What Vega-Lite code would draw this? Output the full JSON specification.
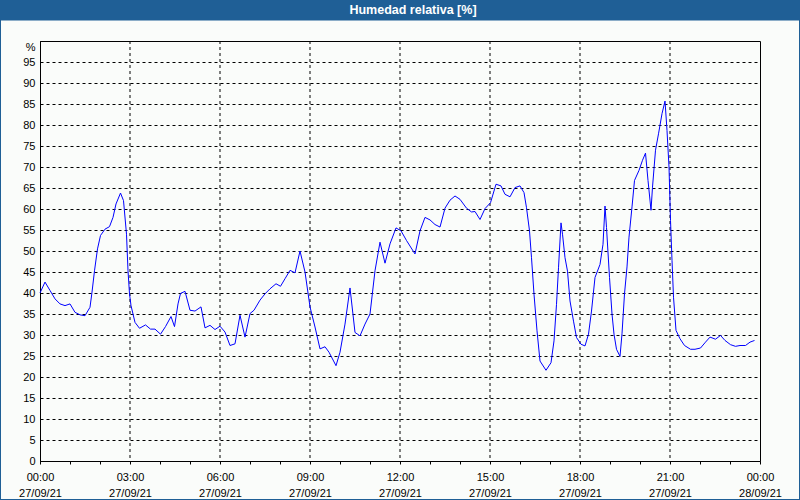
{
  "$schema": "https://vega.github.io/schema/vega-lite/v6.json",
  "width": 720,
  "height": 420,
  "autosize": {"type": "none"},
  "padding": {"left": 40, "top": 41, "right": 40, "bottom": 39},
  "background": "#fafcfa",
  "config": {
    "view": {"stroke": "#000000", "strokeWidth": 1, "fill": "#fafcfa"},
    "axis": {
      "labelFont": "Liberation Sans",
      "labelFontSize": 11,
      "labelColor": "#000000",
      "domainColor": "#000000",
      "tickColor": "#000000",
      "gridColor": "#000000",
      "gridDash": [3, 3],
      "gridWidth": 1,
      "title": null
    }
  },
  "resolve": {"axis": {"x": "independent", "y": "independent"}},
  "datasets": {
    "bar": [{"x1": "2021-09-26T22:40:00Z", "x2": "2021-09-28T01:20:00Z", "y1": 104.88, "y2": 109.76}],
    "frame": [{"x1": "2021-09-26T22:40:00Z", "x2": "2021-09-28T01:20:00Z", "y1": -9.29, "y2": 109.76}],
    "titletext": [{"t": "2021-09-27T12:26:00Z", "v": 106.43, "label": "Humedad relativa [%]"}],
    "grid": [
      {"t": "2021-09-27T03:00:00Z"},
      {"t": "2021-09-27T06:00:00Z"},
      {"t": "2021-09-27T09:00:00Z"},
      {"t": "2021-09-27T12:00:00Z"},
      {"t": "2021-09-27T15:00:00Z"},
      {"t": "2021-09-27T18:00:00Z"},
      {"t": "2021-09-27T21:00:00Z"}
    ],
    "hr": [
      {"t": "2021-09-27T00:00:00Z", "v": 40.0},
      {"t": "2021-09-27T00:10:00Z", "v": 42.6},
      {"t": "2021-09-27T00:20:00Z", "v": 40.6},
      {"t": "2021-09-27T00:30:00Z", "v": 38.6},
      {"t": "2021-09-27T00:40:00Z", "v": 37.4},
      {"t": "2021-09-27T00:50:00Z", "v": 37.0},
      {"t": "2021-09-27T01:00:00Z", "v": 37.4},
      {"t": "2021-09-27T01:10:00Z", "v": 35.4},
      {"t": "2021-09-27T01:20:00Z", "v": 34.8},
      {"t": "2021-09-27T01:30:00Z", "v": 34.6},
      {"t": "2021-09-27T01:40:00Z", "v": 36.6},
      {"t": "2021-09-27T01:44:00Z", "v": 40.2},
      {"t": "2021-09-27T01:49:00Z", "v": 45.3},
      {"t": "2021-09-27T01:55:00Z", "v": 50.5},
      {"t": "2021-09-27T02:01:00Z", "v": 53.7},
      {"t": "2021-09-27T02:10:00Z", "v": 55.2},
      {"t": "2021-09-27T02:19:00Z", "v": 55.8},
      {"t": "2021-09-27T02:26:00Z", "v": 58.0},
      {"t": "2021-09-27T02:32:00Z", "v": 61.2},
      {"t": "2021-09-27T02:41:00Z", "v": 63.8},
      {"t": "2021-09-27T02:47:00Z", "v": 62.0},
      {"t": "2021-09-27T02:53:00Z", "v": 54.0},
      {"t": "2021-09-27T02:56:00Z", "v": 45.3},
      {"t": "2021-09-27T02:59:00Z", "v": 39.8},
      {"t": "2021-09-27T03:02:00Z", "v": 37.0},
      {"t": "2021-09-27T03:10:00Z", "v": 33.0},
      {"t": "2021-09-27T03:19:00Z", "v": 31.6},
      {"t": "2021-09-27T03:31:00Z", "v": 32.4},
      {"t": "2021-09-27T03:41:00Z", "v": 31.4},
      {"t": "2021-09-27T03:50:00Z", "v": 31.4},
      {"t": "2021-09-27T04:01:00Z", "v": 30.2},
      {"t": "2021-09-27T04:11:00Z", "v": 32.0},
      {"t": "2021-09-27T04:22:00Z", "v": 34.4},
      {"t": "2021-09-27T04:29:00Z", "v": 32.0},
      {"t": "2021-09-27T04:36:00Z", "v": 37.4},
      {"t": "2021-09-27T04:41:00Z", "v": 39.9},
      {"t": "2021-09-27T04:50:00Z", "v": 40.4},
      {"t": "2021-09-27T05:00:00Z", "v": 35.9},
      {"t": "2021-09-27T05:10:00Z", "v": 35.7},
      {"t": "2021-09-27T05:22:00Z", "v": 36.7},
      {"t": "2021-09-27T05:30:00Z", "v": 31.7},
      {"t": "2021-09-27T05:40:00Z", "v": 32.3},
      {"t": "2021-09-27T05:50:00Z", "v": 31.3},
      {"t": "2021-09-27T06:00:00Z", "v": 32.1},
      {"t": "2021-09-27T06:10:00Z", "v": 30.7},
      {"t": "2021-09-27T06:20:00Z", "v": 27.5},
      {"t": "2021-09-27T06:30:00Z", "v": 27.9},
      {"t": "2021-09-27T06:40:00Z", "v": 34.7},
      {"t": "2021-09-27T06:50:00Z", "v": 29.5},
      {"t": "2021-09-27T07:00:00Z", "v": 35.1},
      {"t": "2021-09-27T07:08:00Z", "v": 35.9},
      {"t": "2021-09-27T07:20:00Z", "v": 38.3},
      {"t": "2021-09-27T07:30:00Z", "v": 39.8},
      {"t": "2021-09-27T07:40:00Z", "v": 41.0},
      {"t": "2021-09-27T07:52:00Z", "v": 42.2},
      {"t": "2021-09-27T08:01:00Z", "v": 41.6},
      {"t": "2021-09-27T08:10:00Z", "v": 43.4},
      {"t": "2021-09-27T08:20:00Z", "v": 45.4},
      {"t": "2021-09-27T08:30:00Z", "v": 44.8},
      {"t": "2021-09-27T08:40:00Z", "v": 50.0},
      {"t": "2021-09-27T08:50:00Z", "v": 45.0},
      {"t": "2021-09-27T09:00:00Z", "v": 36.7},
      {"t": "2021-09-27T09:10:00Z", "v": 31.9},
      {"t": "2021-09-27T09:20:00Z", "v": 26.7},
      {"t": "2021-09-27T09:30:00Z", "v": 27.2},
      {"t": "2021-09-27T09:38:00Z", "v": 25.9},
      {"t": "2021-09-27T09:52:00Z", "v": 22.7},
      {"t": "2021-09-27T10:00:00Z", "v": 25.9},
      {"t": "2021-09-27T10:10:00Z", "v": 32.6},
      {"t": "2021-09-27T10:20:00Z", "v": 41.2},
      {"t": "2021-09-27T10:30:00Z", "v": 30.6},
      {"t": "2021-09-27T10:40:00Z", "v": 29.8},
      {"t": "2021-09-27T10:50:00Z", "v": 32.6},
      {"t": "2021-09-27T11:00:00Z", "v": 35.0},
      {"t": "2021-09-27T11:10:00Z", "v": 45.3},
      {"t": "2021-09-27T11:20:00Z", "v": 52.1},
      {"t": "2021-09-27T11:30:00Z", "v": 47.1},
      {"t": "2021-09-27T11:40:00Z", "v": 51.7},
      {"t": "2021-09-27T11:52:00Z", "v": 55.5},
      {"t": "2021-09-27T12:02:00Z", "v": 54.8},
      {"t": "2021-09-27T12:13:00Z", "v": 52.5},
      {"t": "2021-09-27T12:30:00Z", "v": 49.3},
      {"t": "2021-09-27T12:40:00Z", "v": 54.8},
      {"t": "2021-09-27T12:50:00Z", "v": 58.0},
      {"t": "2021-09-27T13:00:00Z", "v": 57.4},
      {"t": "2021-09-27T13:10:00Z", "v": 56.3},
      {"t": "2021-09-27T13:20:00Z", "v": 55.7},
      {"t": "2021-09-27T13:30:00Z", "v": 60.2},
      {"t": "2021-09-27T13:40:00Z", "v": 62.1},
      {"t": "2021-09-27T13:50:00Z", "v": 63.1},
      {"t": "2021-09-27T14:00:00Z", "v": 62.3},
      {"t": "2021-09-27T14:13:00Z", "v": 60.2},
      {"t": "2021-09-27T14:23:00Z", "v": 59.3},
      {"t": "2021-09-27T14:30:00Z", "v": 59.4},
      {"t": "2021-09-27T14:40:00Z", "v": 57.5},
      {"t": "2021-09-27T14:50:00Z", "v": 60.1},
      {"t": "2021-09-27T15:01:00Z", "v": 61.5},
      {"t": "2021-09-27T15:12:00Z", "v": 65.9},
      {"t": "2021-09-27T15:22:00Z", "v": 65.5},
      {"t": "2021-09-27T15:30:00Z", "v": 63.5},
      {"t": "2021-09-27T15:40:00Z", "v": 62.9},
      {"t": "2021-09-27T15:50:00Z", "v": 65.1},
      {"t": "2021-09-27T16:00:00Z", "v": 65.5},
      {"t": "2021-09-27T16:08:00Z", "v": 63.9},
      {"t": "2021-09-27T16:13:00Z", "v": 60.3},
      {"t": "2021-09-27T16:19:00Z", "v": 54.8},
      {"t": "2021-09-27T16:23:00Z", "v": 48.4},
      {"t": "2021-09-27T16:28:00Z", "v": 39.7},
      {"t": "2021-09-27T16:34:00Z", "v": 31.0},
      {"t": "2021-09-27T16:40:00Z", "v": 23.8},
      {"t": "2021-09-27T16:52:00Z", "v": 21.6},
      {"t": "2021-09-27T17:02:00Z", "v": 23.4},
      {"t": "2021-09-27T17:08:00Z", "v": 28.6},
      {"t": "2021-09-27T17:13:00Z", "v": 37.3},
      {"t": "2021-09-27T17:17:00Z", "v": 46.0},
      {"t": "2021-09-27T17:22:00Z", "v": 56.7},
      {"t": "2021-09-27T17:25:00Z", "v": 54.0},
      {"t": "2021-09-27T17:30:00Z", "v": 48.4},
      {"t": "2021-09-27T17:35:00Z", "v": 45.2},
      {"t": "2021-09-27T17:40:00Z", "v": 38.1},
      {"t": "2021-09-27T17:47:00Z", "v": 33.3},
      {"t": "2021-09-27T17:53:00Z", "v": 29.4},
      {"t": "2021-09-27T18:02:00Z", "v": 27.8},
      {"t": "2021-09-27T18:10:00Z", "v": 27.4},
      {"t": "2021-09-27T18:17:00Z", "v": 30.2},
      {"t": "2021-09-27T18:23:00Z", "v": 35.7},
      {"t": "2021-09-27T18:30:00Z", "v": 43.7},
      {"t": "2021-09-27T18:40:00Z", "v": 46.8},
      {"t": "2021-09-27T18:46:00Z", "v": 51.6},
      {"t": "2021-09-27T18:50:00Z", "v": 60.7},
      {"t": "2021-09-27T18:53:00Z", "v": 55.6},
      {"t": "2021-09-27T18:59:00Z", "v": 43.7},
      {"t": "2021-09-27T19:04:00Z", "v": 35.0},
      {"t": "2021-09-27T19:08:00Z", "v": 30.2},
      {"t": "2021-09-27T19:13:00Z", "v": 26.6},
      {"t": "2021-09-27T19:20:00Z", "v": 24.9},
      {"t": "2021-09-27T19:24:00Z", "v": 30.3},
      {"t": "2021-09-27T19:29:00Z", "v": 39.8},
      {"t": "2021-09-27T19:34:00Z", "v": 46.2},
      {"t": "2021-09-27T19:38:00Z", "v": 53.3},
      {"t": "2021-09-27T19:44:00Z", "v": 60.5},
      {"t": "2021-09-27T19:49:00Z", "v": 66.8},
      {"t": "2021-09-27T19:58:00Z", "v": 69.2},
      {"t": "2021-09-27T20:05:00Z", "v": 71.6},
      {"t": "2021-09-27T20:11:00Z", "v": 73.3},
      {"t": "2021-09-27T20:16:00Z", "v": 66.8},
      {"t": "2021-09-27T20:22:00Z", "v": 59.7},
      {"t": "2021-09-27T20:25:00Z", "v": 65.2},
      {"t": "2021-09-27T20:31:00Z", "v": 74.0},
      {"t": "2021-09-27T20:37:00Z", "v": 77.9},
      {"t": "2021-09-27T20:44:00Z", "v": 82.7},
      {"t": "2021-09-27T20:50:00Z", "v": 85.7},
      {"t": "2021-09-27T20:54:00Z", "v": 78.7},
      {"t": "2021-09-27T20:58:00Z", "v": 70.0},
      {"t": "2021-09-27T21:01:00Z", "v": 57.3},
      {"t": "2021-09-27T21:04:00Z", "v": 47.8},
      {"t": "2021-09-27T21:07:00Z", "v": 39.0},
      {"t": "2021-09-27T21:12:00Z", "v": 31.1},
      {"t": "2021-09-27T21:20:00Z", "v": 29.1},
      {"t": "2021-09-27T21:29:00Z", "v": 27.5},
      {"t": "2021-09-27T21:41:00Z", "v": 26.6},
      {"t": "2021-09-27T21:50:00Z", "v": 26.6},
      {"t": "2021-09-27T22:01:00Z", "v": 26.9},
      {"t": "2021-09-27T22:11:00Z", "v": 28.3},
      {"t": "2021-09-27T22:20:00Z", "v": 29.5},
      {"t": "2021-09-27T22:31:00Z", "v": 29.0},
      {"t": "2021-09-27T22:41:00Z", "v": 29.9},
      {"t": "2021-09-27T22:50:00Z", "v": 28.7},
      {"t": "2021-09-27T23:01:00Z", "v": 27.7},
      {"t": "2021-09-27T23:11:00Z", "v": 27.3},
      {"t": "2021-09-27T23:20:00Z", "v": 27.5},
      {"t": "2021-09-27T23:31:00Z", "v": 27.5},
      {"t": "2021-09-27T23:40:00Z", "v": 28.3},
      {"t": "2021-09-27T23:49:00Z", "v": 28.7}
    ]
  },
  "layer": [
    {
      "data": {"name": "grid"},
      "mark": {"type": "rule", "color": "#000000", "strokeWidth": 1, "strokeDash": [3, 3]},
      "encoding": {
        "x": {"field": "t", "type": "temporal", "axis": null}
      }
    },
    {
      "data": {"name": "hr"},
      "mark": {"type": "line", "color": "#0000ff", "strokeWidth": 1, "interpolate": "linear"},
      "encoding": {
        "x": {
          "field": "t",
          "type": "temporal",
          "scale": {"type": "utc", "domain": ["2021-09-27T00:00:00Z", "2021-09-28T00:00:00Z"], "nice": false},
          "axis": {
            "tickCount": 24,
            "grid": false,
            "tickSize": 3,
            "labelPadding": 7,
            "labelAlign": "center",
            "labelBaseline": "top",
            "labelLineHeight": 16,
            "labelOverlap": false,
            "labelFlush": false,
            "labelBound": false,
            "labelExpr": "utchours(datum.value) % 3 == 0 ? [utcFormat(datum.value, '%H:%M'), utcFormat(datum.value, '%d/%m/%y')] : ''"
          }
        },
        "y": {
          "field": "v",
          "type": "quantitative",
          "scale": {"domain": [0, 100], "nice": false, "zero": true},
          "axis": {
            "values": [0, 5, 10, 15, 20, 25, 30, 35, 40, 45, 50, 55, 60, 65, 70, 75, 80, 85, 90, 95, 100],
            "tickSize": 0,
            "labelPadding": 5,
            "labelOverlap": false,
            "labelBound": false,
            "labelFlush": false,
            "grid": true,
            "labelBaseline": {"condition": {"test": "datum.value == 100", "value": "top"}, "value": "middle"},
            "labelExpr": "datum.value == 100 ? '%' : datum.label"
          }
        }
      }
    },
    {
      "data": {"name": "bar"},
      "mark": {"type": "rect", "color": "#1f5f96"},
      "encoding": {
        "x": {"field": "x1", "type": "temporal", "axis": null},
        "x2": {"field": "x2"},
        "y": {"field": "y1", "type": "quantitative", "axis": null},
        "y2": {"field": "y2"}
      }
    },
    {
      "data": {"name": "frame"},
      "mark": {"type": "rect", "filled": false, "stroke": "#1f5f96", "strokeWidth": 2},
      "encoding": {
        "x": {"field": "x1", "type": "temporal", "axis": null},
        "x2": {"field": "x2"},
        "y": {"field": "y1", "type": "quantitative", "axis": null},
        "y2": {"field": "y2"}
      }
    },
    {
      "data": {"name": "titletext"},
      "mark": {"type": "text", "color": "#ffffff", "font": "Liberation Sans", "fontSize": 12.5, "fontWeight": "bold", "align": "center", "baseline": "alphabetic"},
      "encoding": {
        "x": {"field": "t", "type": "temporal", "axis": null},
        "y": {"field": "v", "type": "quantitative", "axis": null},
        "text": {"field": "label"}
      }
    }
  ]
}
